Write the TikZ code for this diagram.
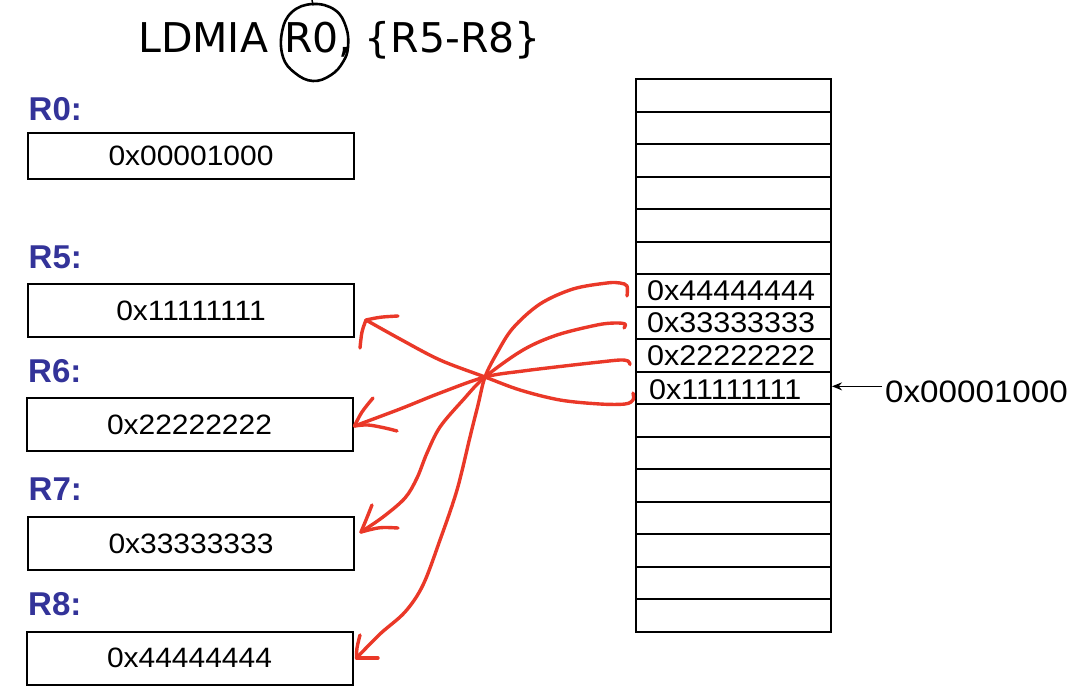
\documentclass[tikz,border=0pt]{standalone}
\usepackage{fontspec}
\usetikzlibrary{arrows.meta}
\newfontfamily\titlefont{DejaVu Sans}
\newfontfamily\valfont[FakeStretch=1.07]{Liberation Sans}
\newfontfamily\regfont{Liberation Sans}
\definecolor{regblue}{RGB}{51,51,153}
\definecolor{hand}{RGB}{234,56,40}
\begin{document}
\begin{tikzpicture}[x=1pt,y=-1pt,
  regbox/.style={draw, line width=2pt, minimum width=326pt, minimum height=53pt, inner sep=0pt,
    font=\valfont\fontsize{28}{32}\selectfont},
  reglabel/.style={anchor=base west, inner sep=0pt, text=regblue,
    font=\regfont\bfseries\fontsize{33}{36}\selectfont},
  cell/.style={draw, line width=2pt, minimum width=195pt, minimum height=32.53pt, inner sep=0pt},
  memval/.style={anchor=west, inner sep=0pt, font=\valfont\fontsize{28.5}{32}\selectfont},
  handline/.style={draw=hand, line width=3.4pt, line cap=round, line join=round},
  pen/.style={draw=black, line width=2.6pt, line cap=round},
]
\useasboundingbox (0,0) rectangle (1084,698);

% title
\node[anchor=base west, inner sep=0pt, font=\titlefont\fontsize{41}{46}\selectfont] (title) at (138,53) {LDMIA\kern3pt{} R0, \{R5-R8\}};
\draw[pen] plot[smooth cycle, tension=0.7] coordinates {(313,4) (292,12) (282,32) (283,57) (295,73) (313,81) (331,75) (343,62) (348,47) (346,27) (335,10)};
\draw[pen, line width=1.5pt] (312,0) -- (313,5);

% registers
\node[reglabel] (l0) at (28.5,121) {R0:};
\node[regbox, minimum height=46pt] (r0) at (191,156) {0x00001000};
\node[reglabel] (l5) at (28.5,268) {R5:};
\node[regbox] (r5) at (191,310.5) {0x11111111};
\node[reglabel] (l6) at (28,382) {R6:};
\node[regbox] (r6) at (189.5,424.5) {0x22222222};
\node[reglabel] (l7) at (28.5,500) {R7:};
\node[regbox] (r7) at (191,543.5) {0x33333333};
\node[reglabel] (l8) at (28,615) {R8:};
\node[regbox] (r8) at (189.5,658) {0x44444444};

% memory
\foreach \i in {1,...,17} {
  \node[cell] (c\i) at (733.5,{79+32.53*(\i-0.5)}) {};
}
\node[memval] (v7) at ([xshift=12pt]c7.west) {0x44444444};
\node[memval] (v8) at ([xshift=12pt]c8.west) {0x33333333};
\node[memval] (v9) at ([xshift=12pt]c9.west) {0x22222222};
\node[memval] (v10) at ([shift={(14,2)}]c10.west) {0x11111111};

% address pointer
\node[anchor=base west, inner sep=0pt, font=\valfont\fontsize{31}{34}\selectfont] (addr) at (885,402) {0x00001000};
\coordinate (aw) at ([shift={(-3,-5)}]addr.west);
\draw[line width=1.5pt, -{Stealth[length=10pt,width=8pt]}] (aw) -- (aw -| c10.east);

% hand-drawn arrows
\coordinate (X) at (485,377);
\coordinate (tA) at ([shift={(11,9.5)}]r5.east);
\coordinate (tB) at ([shift={(1,1.5)}]r6.east);
\coordinate (tC) at ([shift={(6,-11.5)}]r7.east);
\coordinate (tD) at ([shift={(3,0)}]r8.east);
\coordinate (sA) at ([shift={(-2,5)}]c10.west);
\coordinate (sB) at ([shift={(-5,9)}]c9.west);
\coordinate (sC) at ([shift={(-11,5)}]c8.west);
\coordinate (sD) at ([shift={(-8,5.5)}]c7.west);

% 0x11111111 -> R5
\draw[handline] plot[smooth, tension=0.55] coordinates {(sA) (633,400) (625,404) (600,404) (560,400) (520,390) (X) (440,360) (400,339) (tA)};
\draw[handline] plot[smooth, tension=0.6] coordinates {(360,348) (362,332) (tA)};
\draw[handline] (tA) .. controls (380,317) .. (398,316);
% 0x22222222 -> R6
\draw[handline] plot[smooth, tension=0.55] coordinates {(sB) (628,361) (620,360) (600,362) (573,365) (523,371) (X) (440,393) (400,409) (tB)};
\draw[handline] plot[smooth, tension=0.6] coordinates {(373,398) (362,412) (tB)};
\draw[handline] plot[smooth, tension=0.6] coordinates {(tB) (368,425) (385,428) (397,431)};
% 0x33333333 -> R7
\draw[handline] plot[smooth, tension=0.55] coordinates {(sC) (625,324) (615,323) (597,325) (557,335) (523,350) (X) (463,400) (440,427) (427,453) (417,478) (405,498) (383,517) (tC)};
\draw[handline] plot[smooth, tension=0.6] coordinates {(372,505) (366,520) (tC)};
\draw[handline] (tC) .. controls (380,527) .. (398,528);
% 0x44444444 -> R8
\draw[handline] plot[smooth, tension=0.55] coordinates {(sD) (627,286) (620,283) (607,283) (573,289) (540,304) (513,328) (497,353) (X) (478,405) (470,437) (457,490) (440,540) (423,585) (405,612) (380,634) (tD)};
\draw[handline] plot[smooth, tension=0.6] coordinates {(360,635) (357,648) (tD)};
\draw[handline] (tD) -- (378,658);
\end{tikzpicture}
\end{document}
